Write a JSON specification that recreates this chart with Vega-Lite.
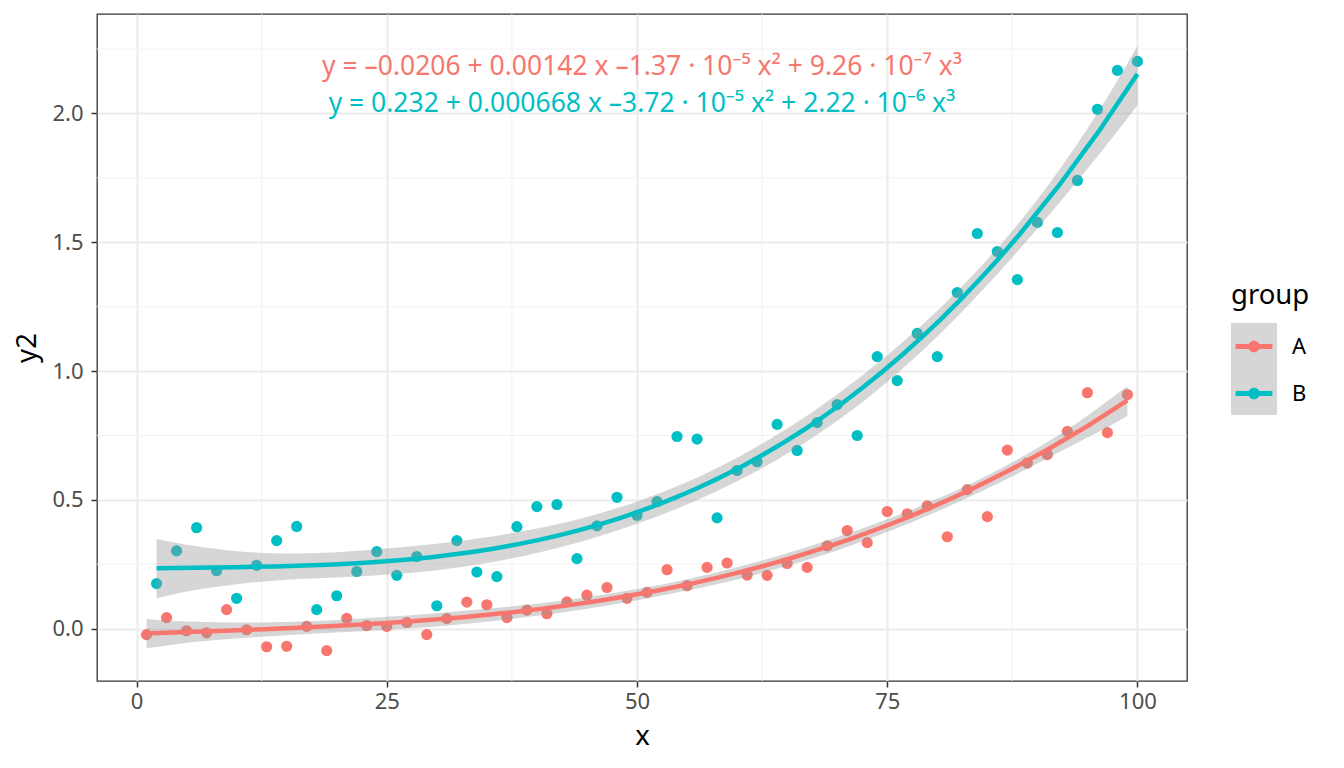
{
  "$schema": "https://vega.github.io/schema/vega-lite/v6.json",
  "width": 1090,
  "height": 667,
  "autosize": {"type": "none"},
  "padding": {"left": 97, "top": 14, "right": 157, "bottom": 87},
  "background": "white",
  "datasets": {
    "pts": [
      {"x": 1, "y2": -0.023, "group": "A"}, {"x": 3, "y2": 0.043, "group": "A"},
      {"x": 5, "y2": -0.008, "group": "A"}, {"x": 7, "y2": -0.016, "group": "A"},
      {"x": 9, "y2": 0.074, "group": "A"}, {"x": 11, "y2": -0.004, "group": "A"},
      {"x": 13, "y2": -0.070, "group": "A"}, {"x": 15, "y2": -0.068, "group": "A"},
      {"x": 17, "y2": 0.009, "group": "A"}, {"x": 19, "y2": -0.085, "group": "A"},
      {"x": 21, "y2": 0.040, "group": "A"}, {"x": 23, "y2": 0.012, "group": "A"},
      {"x": 25, "y2": 0.009, "group": "A"}, {"x": 27, "y2": 0.024, "group": "A"},
      {"x": 29, "y2": -0.023, "group": "A"}, {"x": 31, "y2": 0.039, "group": "A"},
      {"x": 33, "y2": 0.103, "group": "A"}, {"x": 35, "y2": 0.093, "group": "A"},
      {"x": 37, "y2": 0.043, "group": "A"}, {"x": 39, "y2": 0.072, "group": "A"},
      {"x": 41, "y2": 0.058, "group": "A"}, {"x": 43, "y2": 0.104, "group": "A"},
      {"x": 45, "y2": 0.130, "group": "A"}, {"x": 47, "y2": 0.160, "group": "A"},
      {"x": 49, "y2": 0.118, "group": "A"}, {"x": 51, "y2": 0.141, "group": "A"},
      {"x": 53, "y2": 0.229, "group": "A"}, {"x": 55, "y2": 0.167, "group": "A"},
      {"x": 57, "y2": 0.238, "group": "A"}, {"x": 59, "y2": 0.255, "group": "A"},
      {"x": 61, "y2": 0.208, "group": "A"}, {"x": 63, "y2": 0.207, "group": "A"},
      {"x": 65, "y2": 0.253, "group": "A"}, {"x": 67, "y2": 0.238, "group": "A"},
      {"x": 69, "y2": 0.322, "group": "A"}, {"x": 71, "y2": 0.381, "group": "A"},
      {"x": 73, "y2": 0.334, "group": "A"}, {"x": 75, "y2": 0.455, "group": "A"},
      {"x": 77, "y2": 0.446, "group": "A"}, {"x": 79, "y2": 0.477, "group": "A"},
      {"x": 81, "y2": 0.357, "group": "A"}, {"x": 83, "y2": 0.540, "group": "A"},
      {"x": 85, "y2": 0.435, "group": "A"}, {"x": 87, "y2": 0.693, "group": "A"},
      {"x": 89, "y2": 0.643, "group": "A"}, {"x": 91, "y2": 0.676, "group": "A"},
      {"x": 93, "y2": 0.766, "group": "A"}, {"x": 95, "y2": 0.916, "group": "A"},
      {"x": 97, "y2": 0.761, "group": "A"}, {"x": 99, "y2": 0.909, "group": "A"},
      {"x": 2, "y2": 0.175, "group": "B"}, {"x": 4, "y2": 0.302, "group": "B"},
      {"x": 6, "y2": 0.392, "group": "B"}, {"x": 8, "y2": 0.225, "group": "B"},
      {"x": 10, "y2": 0.118, "group": "B"}, {"x": 12, "y2": 0.246, "group": "B"},
      {"x": 14, "y2": 0.342, "group": "B"}, {"x": 16, "y2": 0.397, "group": "B"},
      {"x": 18, "y2": 0.074, "group": "B"}, {"x": 20, "y2": 0.128, "group": "B"},
      {"x": 22, "y2": 0.222, "group": "B"}, {"x": 24, "y2": 0.299, "group": "B"},
      {"x": 26, "y2": 0.207, "group": "B"}, {"x": 28, "y2": 0.280, "group": "B"},
      {"x": 30, "y2": 0.089, "group": "B"}, {"x": 32, "y2": 0.342, "group": "B"},
      {"x": 34, "y2": 0.220, "group": "B"}, {"x": 36, "y2": 0.202, "group": "B"},
      {"x": 38, "y2": 0.396, "group": "B"}, {"x": 40, "y2": 0.474, "group": "B"},
      {"x": 42, "y2": 0.482, "group": "B"}, {"x": 44, "y2": 0.272, "group": "B"},
      {"x": 46, "y2": 0.399, "group": "B"}, {"x": 48, "y2": 0.510, "group": "B"},
      {"x": 50, "y2": 0.440, "group": "B"}, {"x": 52, "y2": 0.493, "group": "B"},
      {"x": 54, "y2": 0.746, "group": "B"}, {"x": 56, "y2": 0.736, "group": "B"},
      {"x": 58, "y2": 0.430, "group": "B"}, {"x": 60, "y2": 0.614, "group": "B"},
      {"x": 62, "y2": 0.648, "group": "B"}, {"x": 64, "y2": 0.793, "group": "B"},
      {"x": 66, "y2": 0.692, "group": "B"}, {"x": 68, "y2": 0.800, "group": "B"},
      {"x": 70, "y2": 0.870, "group": "B"}, {"x": 72, "y2": 0.750, "group": "B"},
      {"x": 74, "y2": 1.056, "group": "B"}, {"x": 76, "y2": 0.963, "group": "B"},
      {"x": 78, "y2": 1.146, "group": "B"}, {"x": 80, "y2": 1.056, "group": "B"},
      {"x": 82, "y2": 1.305, "group": "B"}, {"x": 84, "y2": 1.534, "group": "B"},
      {"x": 86, "y2": 1.464, "group": "B"}, {"x": 88, "y2": 1.355, "group": "B"},
      {"x": 90, "y2": 1.577, "group": "B"}, {"x": 92, "y2": 1.538, "group": "B"},
      {"x": 94, "y2": 1.740, "group": "B"}, {"x": 96, "y2": 2.016, "group": "B"},
      {"x": 98, "y2": 2.167, "group": "B"}, {"x": 100, "y2": 2.202, "group": "B"}
    ],
    "band": [
      {"group": "A", "x": 1, "lo": -0.076, "hi": 0.038},
      {"group": "A", "x": 4, "lo": -0.060, "hi": 0.030},
      {"group": "A", "x": 6, "lo": -0.051, "hi": 0.027},
      {"group": "A", "x": 10, "lo": -0.038, "hi": 0.024},
      {"group": "A", "x": 15, "lo": -0.025, "hi": 0.026},
      {"group": "A", "x": 20, "lo": -0.015, "hi": 0.034},
      {"group": "A", "x": 25, "lo": -0.004, "hi": 0.046},
      {"group": "A", "x": 30, "lo": 0.009, "hi": 0.060},
      {"group": "A", "x": 35, "lo": 0.027, "hi": 0.077},
      {"group": "A", "x": 40, "lo": 0.050, "hi": 0.097},
      {"group": "A", "x": 45, "lo": 0.077, "hi": 0.122},
      {"group": "A", "x": 50, "lo": 0.110, "hi": 0.154},
      {"group": "A", "x": 55, "lo": 0.148, "hi": 0.192},
      {"group": "A", "x": 60, "lo": 0.191, "hi": 0.239},
      {"group": "A", "x": 65, "lo": 0.244, "hi": 0.293},
      {"group": "A", "x": 70, "lo": 0.304, "hi": 0.355},
      {"group": "A", "x": 75, "lo": 0.375, "hi": 0.425},
      {"group": "A", "x": 80, "lo": 0.455, "hi": 0.504},
      {"group": "A", "x": 85, "lo": 0.544, "hi": 0.595},
      {"group": "A", "x": 90, "lo": 0.641, "hi": 0.701},
      {"group": "A", "x": 95, "lo": 0.742, "hi": 0.827},
      {"group": "A", "x": 97, "lo": 0.782, "hi": 0.884},
      {"group": "A", "x": 99, "lo": 0.827, "hi": 0.941},
      {"group": "B", "x": 2, "lo": 0.118, "hi": 0.348},
      {"group": "B", "x": 5, "lo": 0.144, "hi": 0.326},
      {"group": "B", "x": 7, "lo": 0.157, "hi": 0.314},
      {"group": "B", "x": 10, "lo": 0.173, "hi": 0.301},
      {"group": "B", "x": 15, "lo": 0.190, "hi": 0.292},
      {"group": "B", "x": 20, "lo": 0.199, "hi": 0.297},
      {"group": "B", "x": 25, "lo": 0.209, "hi": 0.311},
      {"group": "B", "x": 30, "lo": 0.227, "hi": 0.330},
      {"group": "B", "x": 35, "lo": 0.255, "hi": 0.355},
      {"group": "B", "x": 40, "lo": 0.294, "hi": 0.389},
      {"group": "B", "x": 45, "lo": 0.344, "hi": 0.434},
      {"group": "B", "x": 50, "lo": 0.407, "hi": 0.493},
      {"group": "B", "x": 55, "lo": 0.482, "hi": 0.569},
      {"group": "B", "x": 60, "lo": 0.572, "hi": 0.664},
      {"group": "B", "x": 65, "lo": 0.679, "hi": 0.777},
      {"group": "B", "x": 70, "lo": 0.807, "hi": 0.909},
      {"group": "B", "x": 75, "lo": 0.958, "hi": 1.061},
      {"group": "B", "x": 80, "lo": 1.134, "hi": 1.234},
      {"group": "B", "x": 85, "lo": 1.334, "hi": 1.433},
      {"group": "B", "x": 90, "lo": 1.552, "hi": 1.666},
      {"group": "B", "x": 95, "lo": 1.785, "hi": 1.941},
      {"group": "B", "x": 98, "lo": 1.931, "hi": 2.128},
      {"group": "B", "x": 100, "lo": 2.032, "hi": 2.262}
    ],
    "minx": [{"v": 12.5}, {"v": 37.5}, {"v": 62.5}, {"v": 87.5}],
    "miny": [{"w": 0.25}, {"w": 0.75}, {"w": 1.25}, {"w": 1.75}, {"w": 2.25}],
    "eq": [
      {"group": "A", "label": "y = –0.0206 + 0.00142 x –1.37 · 10⁻⁵ x² + 9.26 · 10⁻⁷ x³"},
      {"group": "B", "label": "y = 0.232 + 0.000668 x –3.72 · 10⁻⁵ x² + 2.22 · 10⁻⁶ x³"}
    ]
  },
  "layer": [
    {
      "data": {"name": "minx"},
      "mark": {"type": "rule", "color": "#F2F2F2", "strokeWidth": 1},
      "encoding": {"x": {"field": "v", "type": "quantitative", "title": "x"}}
    },
    {
      "data": {"name": "miny"},
      "mark": {"type": "rule", "color": "#F2F2F2", "strokeWidth": 1},
      "encoding": {"y": {"field": "w", "type": "quantitative", "title": "y2"}}
    },
    {
      "data": {"name": "pts"},
      "mark": {"type": "circle", "size": 125, "opacity": 1},
      "encoding": {
        "x": {
          "field": "x", "type": "quantitative", "title": "x",
          "scale": {"domain": [-3.95, 104.95], "nice": false, "zero": false},
          "axis": {"values": [0, 25, 50, 75, 100], "labelPadding": 4, "titlePadding": 10}
        },
        "y": {
          "field": "y2", "type": "quantitative", "title": "y2",
          "scale": {"domain": [-0.203, 2.386], "nice": false, "zero": false},
          "axis": {"values": [0, 0.5, 1, 1.5, 2], "format": ".1f", "labelPadding": 8, "titlePadding": 10}
        },
        "color": {
          "field": "group", "type": "nominal",
          "scale": {"domain": ["A", "B"], "range": ["#F8766D", "#00BFC4"]},
          "legend": {
            "title": "group", "orient": "none", "legendX": 1134, "legendY": 268,
            "padding": 0, "rowPadding": 13, "titlePadding": 14,
            "titleFontSize": 27.5, "titleFontWeight": "normal", "titleColor": "black",
            "labelFontSize": 22, "labelColor": "black", "labelOffset": 15,
            "symbolType": "M-0.8,-0.104H0.8V0.104H-0.8Z M0.25,0A0.25,0.25,0,1,1,-0.25,0A0.25,0.25,0,1,1,0.25,0Z",
            "symbolSize": 2116, "symbolStrokeWidth": 0, "symbolOpacity": 1, "zindex": 2,
            "encode": {"symbols": {"update": {"fill": {"scale": "color", "field": "value"}, "stroke": {"value": "transparent"}}}}
          }
        }
      }
    },
    {
      "data": {"name": "band"},
      "mark": {"type": "area", "opacity": 0.4, "interpolate": "monotone"},
      "encoding": {
        "x": {"field": "x", "type": "quantitative", "title": "x"},
        "y": {"field": "lo", "type": "quantitative", "title": "y2"},
        "y2": {"field": "hi"},
        "fill": {
          "field": "group", "type": "nominal",
          "scale": {"range": ["#999999", "#999999"]},
          "legend": {
            "title": null, "orient": "none", "legendX": 1134, "legendY": 309,
            "padding": 0, "rowPadding": 0,
            "labelFontSize": 22, "labelExpr": "''", "labelOffset": 15,
            "symbolType": "square", "symbolSize": 2116, "symbolStrokeWidth": 0,
            "symbolOpacity": 0.4, "zindex": 1
          }
        }
      }
    },
    {
      "data": {"name": "pts"},
      "transform": [
        {"regression": "y2", "on": "x", "groupby": ["group"], "method": "poly", "order": 3}
      ],
      "mark": {"type": "line", "strokeWidth": 4.5},
      "encoding": {
        "x": {"field": "x", "type": "quantitative", "title": "x"},
        "y": {"field": "y2", "type": "quantitative", "title": "y2"},
        "color": {"field": "group", "type": "nominal"}
      }
    },
    {
      "data": {"name": "eq"},
      "transform": [{"filter": "datum.group === 'A'"}],
      "mark": {"type": "text", "align": "center", "baseline": "alphabetic", "fontSize": 26.5, "font": "Noto Sans"},
      "encoding": {
        "x": {"datum": 50.5, "type": "quantitative"},
        "y": {"datum": 2.148, "type": "quantitative"},
        "text": {"field": "label"},
        "color": {"field": "group", "type": "nominal"}
      }
    },
    {
      "data": {"name": "eq"},
      "transform": [{"filter": "datum.group === 'B'"}],
      "mark": {"type": "text", "align": "center", "baseline": "alphabetic", "fontSize": 26.5, "font": "Noto Sans"},
      "encoding": {
        "x": {"datum": 50.5, "type": "quantitative"},
        "y": {"datum": 2.005, "type": "quantitative"},
        "text": {"field": "label"},
        "color": {"field": "group", "type": "nominal"}
      }
    }
  ],
  "config": {
    "font": "Noto Sans",
    "view": {"stroke": "#333333", "strokeWidth": 1.3},
    "axis": {
      "gridColor": "#EBEBEB", "gridWidth": 2, "domain": false,
      "tickColor": "#333333", "tickWidth": 1.5, "tickSize": 6,
      "labelColor": "#4D4D4D", "labelFontSize": 22, "labelFont": "Noto Sans",
      "titleFontSize": 27.5, "titleFontWeight": "normal", "titleColor": "black", "titleFont": "Noto Sans"
    },
    "legend": {"labelFont": "Noto Sans", "titleFont": "Noto Sans"}
  }
}
